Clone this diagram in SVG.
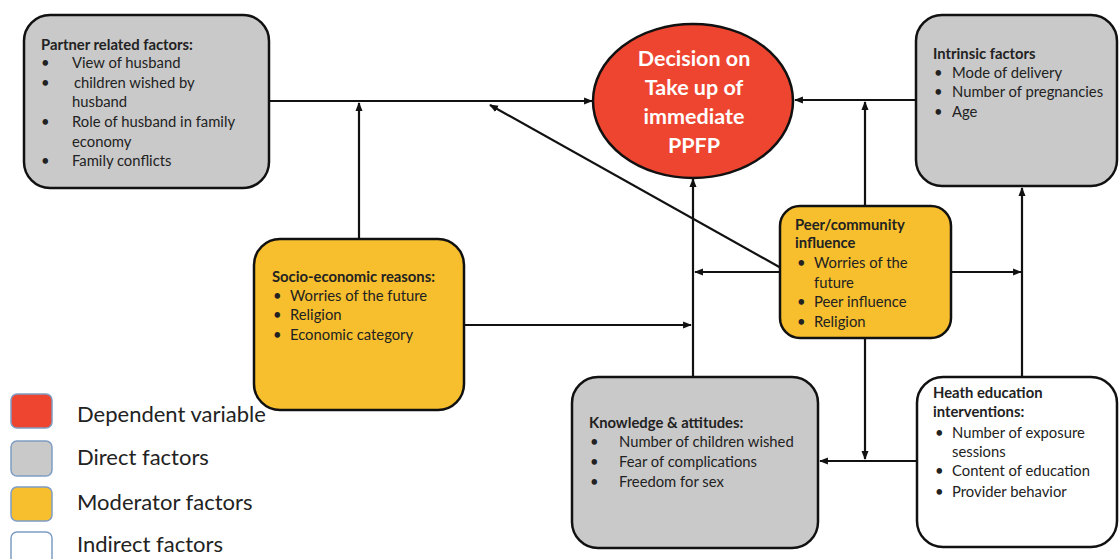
<svg xmlns="http://www.w3.org/2000/svg" width="1119" height="559" viewBox="0 0 1119 559">
<style>
.box{stroke:#111;stroke-width:2.5}
.gray{fill:#c9c9c9}
.yel{fill:#f7bf2d}
.wht{fill:#fff}
.t{font-family:Lato,"Liberation Sans",sans-serif;font-size:14.8px;fill:#222}
.b{font-weight:bold}
.c{fill:none;stroke:#111;stroke-width:2.2}
.lg{stroke:#7f9dc4;stroke-width:1.5}
.lt{font-family:Lato,"Liberation Sans",sans-serif;font-size:22px;fill:#222}
</style>
<defs>
<marker id="ah" viewBox="0 0 10 10" refX="9" refY="5" markerWidth="4" markerHeight="4" orient="auto" markerUnits="strokeWidth">
<path d="M0,1 L10,5 L0,9 z" fill="#111"/>
</marker>
</defs>
<rect width="1119" height="559" fill="#fff"/>

<g id="connectors">
<line class="c" x1="269" y1="101" x2="592" y2="101" marker-end="url(#ah)"/>
<line class="c" x1="359" y1="239" x2="359" y2="103" marker-end="url(#ah)"/>
<line class="c" x1="781" y1="268" x2="490" y2="105" marker-end="url(#ah)"/>
<line class="c" x1="916" y1="100" x2="795" y2="100" marker-end="url(#ah)"/>
<line class="c" x1="865" y1="207" x2="865" y2="102" marker-end="url(#ah)"/>
<line class="c" x1="693" y1="377" x2="693" y2="179" marker-end="url(#ah)"/>
<line class="c" x1="780" y1="272" x2="695" y2="272" marker-end="url(#ah)"/>
<line class="c" x1="951" y1="272" x2="1021" y2="272" marker-end="url(#ah)"/>
<line class="c" x1="1022" y1="376" x2="1022" y2="188" marker-end="url(#ah)"/>
<line class="c" x1="464" y1="325" x2="691" y2="325" marker-end="url(#ah)"/>
<line class="c" x1="865" y1="337" x2="865" y2="459" marker-end="url(#ah)"/>
<line class="c" x1="917" y1="461" x2="820" y2="461" marker-end="url(#ah)"/>
</g>

<g id="partner">
<rect class="box gray" x="24" y="15" width="245" height="173" rx="26"/>
<text class="t b" x="41" y="50">Partner related factors:</text>
<text class="t" x="41" y="68">•</text><text class="t" x="72" y="68">View of husband</text>
<text class="t" x="41" y="88">•</text><text class="t" x="74" y="88">children wished by</text>
<text class="t" x="72" y="107">husband</text>
<text class="t" x="41" y="127">•</text><text class="t" x="72" y="127">Role of husband in family</text>
<text class="t" x="72" y="147">economy</text>
<text class="t" x="41" y="166">•</text><text class="t" x="72" y="166">Family conflicts</text>
</g>

<g id="decision">
<ellipse cx="693" cy="101" rx="100" ry="77" fill="#ee4530" stroke="#111" stroke-width="2.5"/>
<g font-family="Lato,'Liberation Sans',sans-serif" font-size="21.5" font-weight="bold" fill="#fff" text-anchor="middle">
<text x="694" y="66">Decision on</text>
<text x="694" y="95">Take up of</text>
<text x="694" y="124">immediate</text>
<text x="694" y="153">PPFP</text>
</g>
</g>

<g id="intrinsic">
<rect class="box gray" x="916" y="15" width="201" height="171" rx="26"/>
<text class="t b" x="933" y="59">Intrinsic factors</text>
<text class="t" x="934" y="78">•</text><text class="t" x="952" y="78">Mode of delivery</text>
<text class="t" x="934" y="97">•</text><text class="t" x="952" y="97">Number of pregnancies</text>
<text class="t" x="934" y="117">•</text><text class="t" x="952" y="117">Age</text>
</g>

<g id="socio">
<rect class="box yel" x="254" y="239" width="210" height="171" rx="26"/>
<text class="t b" x="272" y="282">Socio-economic reasons:</text>
<text class="t" x="273" y="301">•</text><text class="t" x="290" y="301">Worries of the future</text>
<text class="t" x="273" y="320">•</text><text class="t" x="290" y="320">Religion</text>
<text class="t" x="273" y="340">•</text><text class="t" x="290" y="340">Economic category</text>
</g>

<g id="peer">
<rect class="box yel" x="780" y="206" width="171" height="132" rx="20"/>
<text class="t b" x="795" y="230">Peer/community</text>
<text class="t b" x="795" y="248">influence</text>
<text class="t" x="797" y="268">•</text><text class="t" x="814" y="268">Worries of the</text>
<text class="t" x="814" y="288">future</text>
<text class="t" x="797" y="307">•</text><text class="t" x="814" y="307">Peer influence</text>
<text class="t" x="797" y="327">•</text><text class="t" x="814" y="327">Religion</text>
</g>

<g id="knowledge">
<rect class="box gray" x="572" y="377" width="246" height="171" rx="26"/>
<text class="t b" x="589" y="428">Knowledge &amp; attitudes:</text>
<text class="t" x="590" y="447">•</text><text class="t" x="619" y="447">Number of children wished</text>
<text class="t" x="590" y="467">•</text><text class="t" x="619" y="467">Fear of complications</text>
<text class="t" x="590" y="487">•</text><text class="t" x="619" y="487">Freedom for sex</text>
</g>

<g id="heath">
<rect class="box wht" x="917" y="377" width="200" height="170" rx="26"/>
<text class="t b" x="933" y="398">Heath education</text>
<text class="t b" x="933" y="417">interventions:</text>
<text class="t" x="935" y="438">•</text><text class="t" x="952" y="438">Number of exposure</text>
<text class="t" x="952" y="457">sessions</text>
<text class="t" x="935" y="476">•</text><text class="t" x="952" y="476">Content of education</text>
<text class="t" x="935" y="497">•</text><text class="t" x="952" y="497">Provider behavior</text>
</g>

<g id="legend">
<rect class="lg" x="11" y="394" width="41" height="34" rx="6" fill="#ee4530"/>
<rect class="lg" x="11" y="441" width="41" height="35" rx="6" fill="#c9c9c9"/>
<rect class="lg" x="11" y="487" width="41" height="34" rx="6" fill="#f7bf2d"/>
<rect class="lg" x="11" y="532" width="41" height="34" rx="6" fill="#fff"/>
<text class="lt" x="77" y="422">Dependent variable</text>
<text class="lt" x="77" y="465">Direct factors</text>
<text class="lt" x="77" y="510">Moderator factors</text>
<text class="lt" x="77" y="552">Indirect factors</text>
</g>
</svg>
